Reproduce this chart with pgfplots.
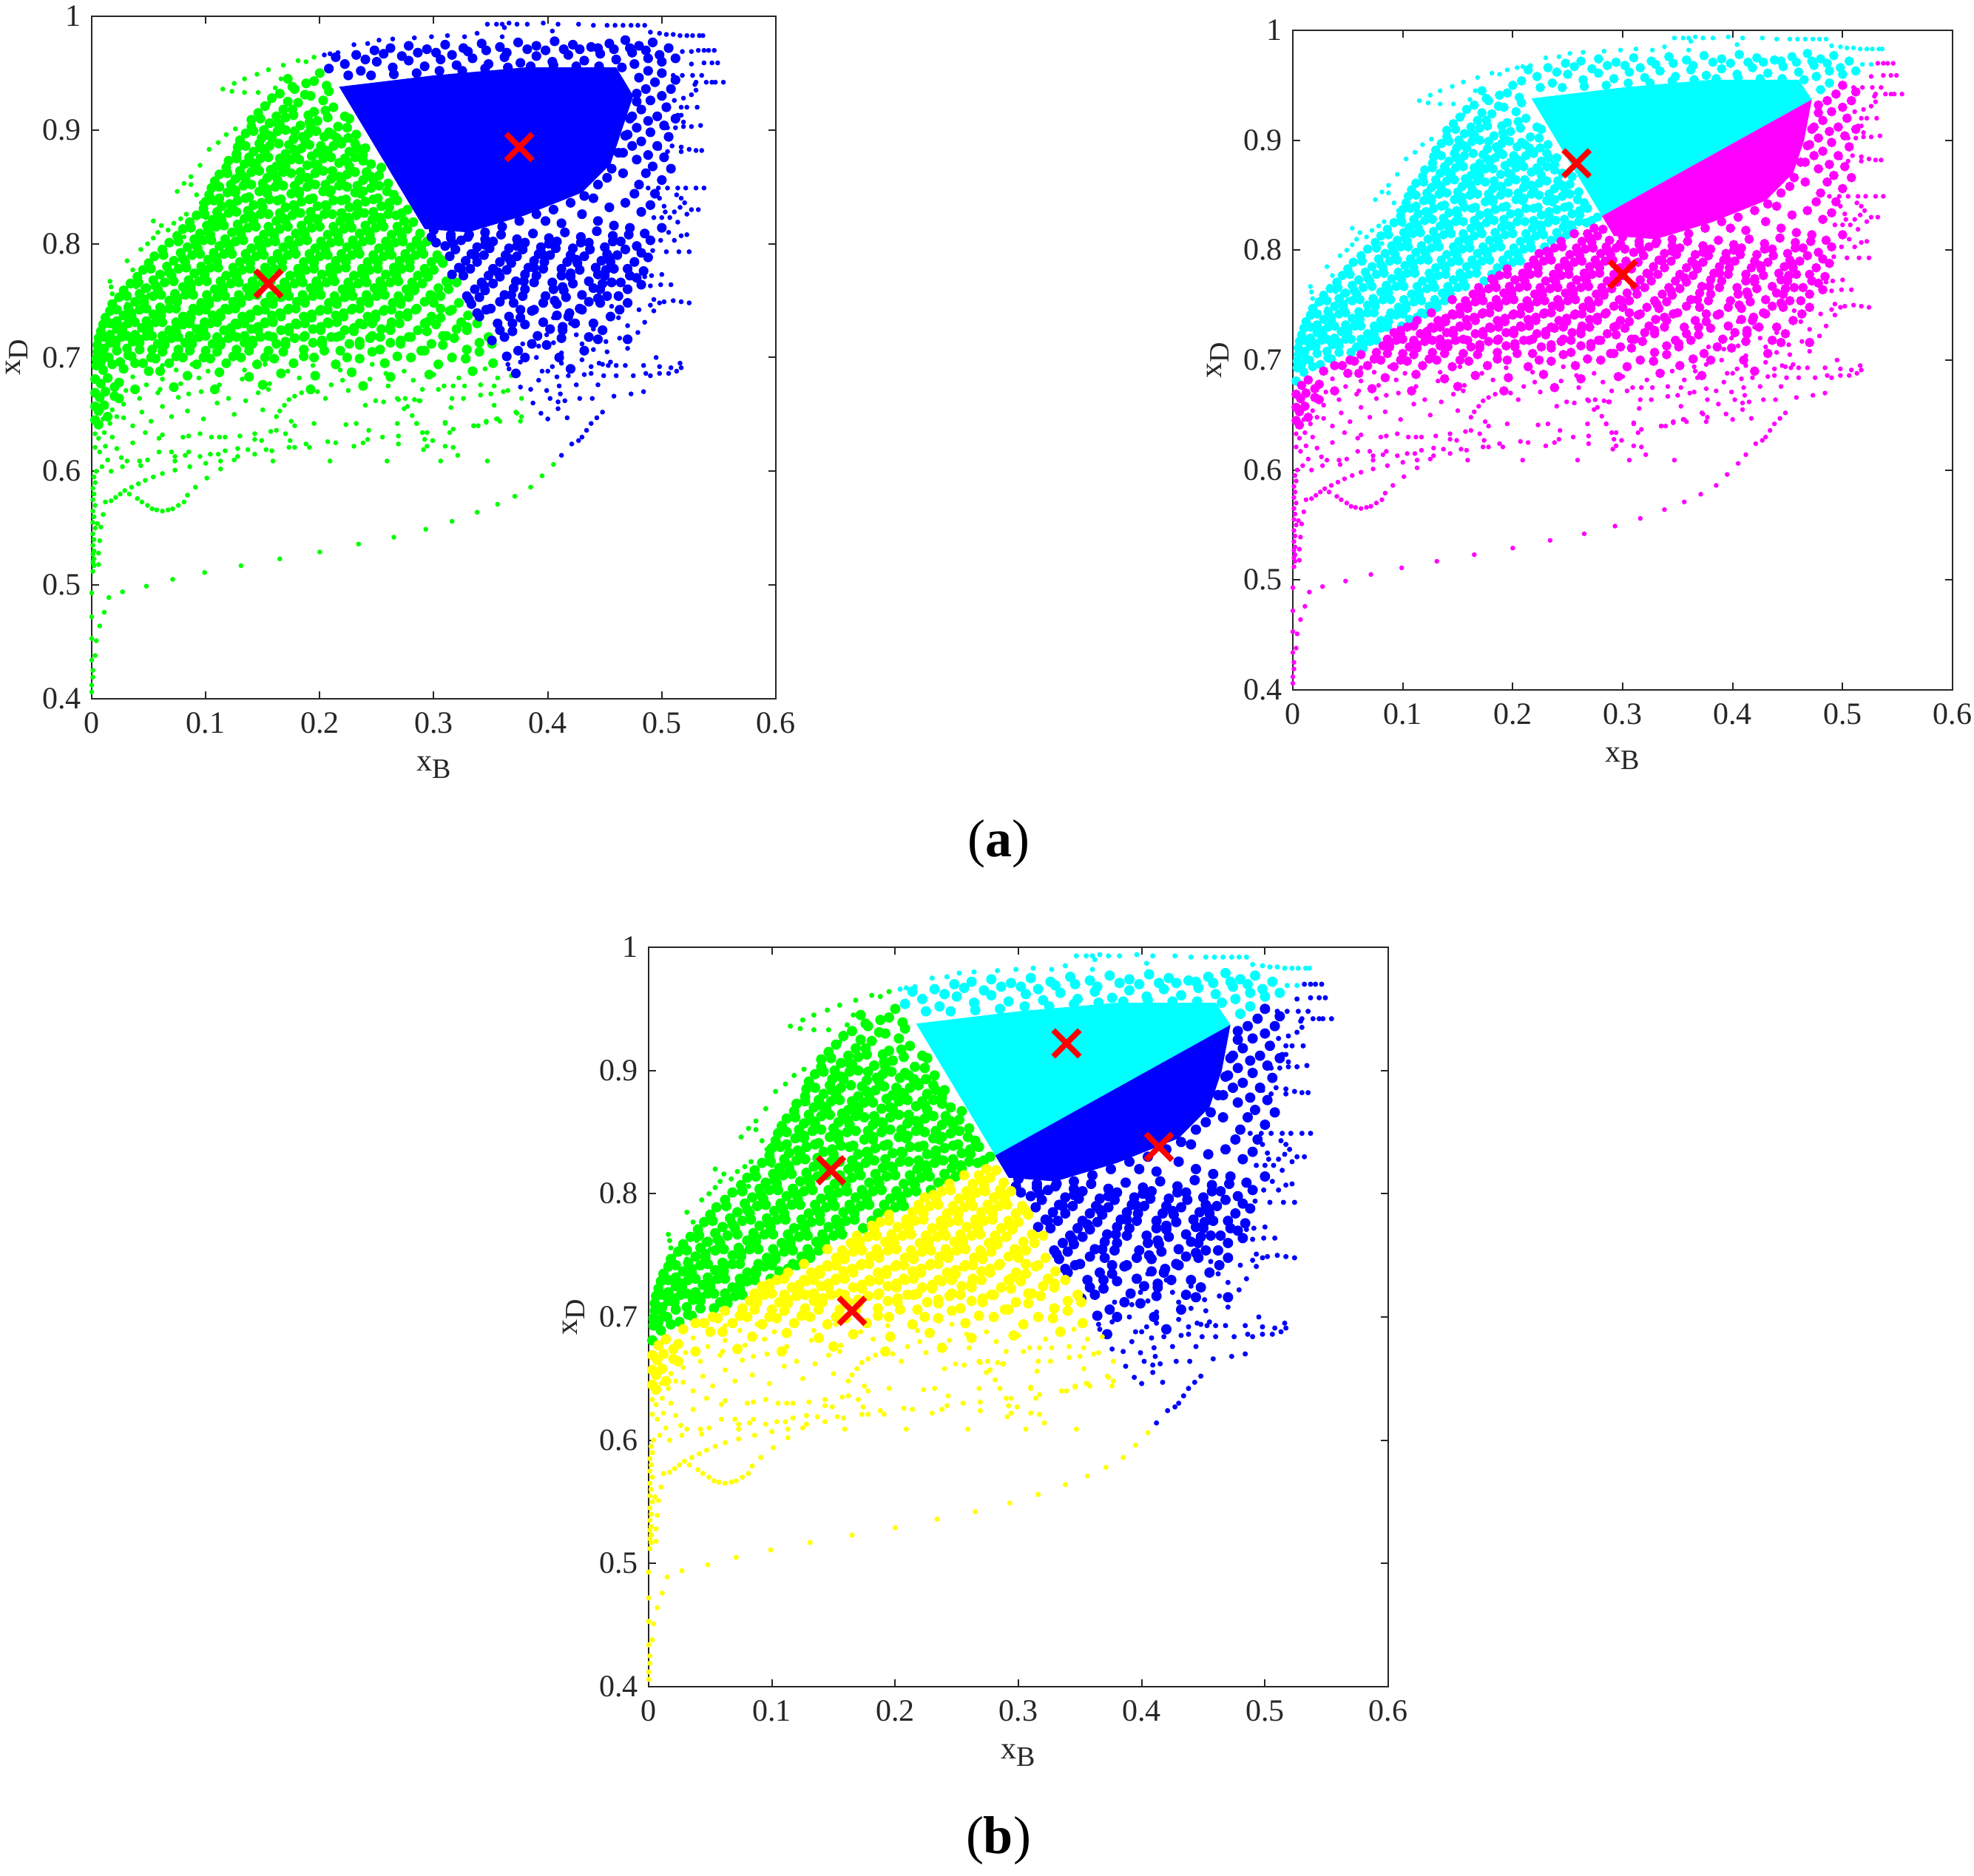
\documentclass[border=0pt]{standalone}
\usepackage{pgfplots}
\usepackage{pgfplotstable}
\usepackage{fontspec}
\setmainfont{Liberation Serif}
\pgfplotsset{compat=1.18}
\definecolor{cG}{RGB}{0,255,0}
\definecolor{cB}{RGB}{0,0,255}
\definecolor{cC}{RGB}{0,255,255}
\definecolor{cM}{RGB}{255,0,255}
\definecolor{cY}{RGB}{255,255,0}
\definecolor{axc}{RGB}{38,38,38}

% x_B, x_D, in thousandths
\pgfplotstableread{
x y
172 945
188 941
200 950
165 932
178 936
192 930
208 934
152 921
168 918
181 924
195 916
212 920
140 909
156 906
170 911
183 904
198 908
216 903
226 910
135 897
149 893
163 899
177 892
190 897
204 894
218 890
232 896
128 885
142 881
156 886
170 879
184 884
198 880
212 886
226 881
240 884
120 873
134 870
148 875
162 868
175 874
189 869
203 875
217 871
231 876
245 870
112 861
126 857
140 863
154 858
168 863
182 856
196 862
210 857
224 861
238 856
252 860
105 849
119 845
133 851
147 846
161 850
175 844
189 850
203 846
217 851
231 845
245 849
259 846
268 838
100 837
114 833
128 838
142 834
156 839
170 832
184 837
198 833
212 838
226 832
240 837
254 833
277 830
92 825
106 821
120 827
134 822
148 826
162 820
176 825
190 821
204 826
218 820
232 825
246 821
260 826
274 820
80 813
95 809
109 815
123 810
137 814
151 808
165 813
179 809
193 814
207 808
221 813
235 809
249 814
263 808
277 813
288 809
68 801
84 797
98 803
112 798
126 802
140 796
154 801
168 797
182 802
196 796
210 801
224 797
238 802
252 796
266 801
280 797
294 802
310 798
324 803
338 797
352 802
366 796
380 801
394 797
408 802
422 796
436 801
450 797
464 802
478 798
490 803
55 789
72 785
88 790
102 786
116 791
130 784
144 789
158 785
172 790
186 784
200 789
214 785
228 790
242 784
256 789
270 785
284 790
298 784
314 789
328 785
344 790
358 784
373 789
388 785
402 790
417 784
432 789
447 785
461 790
476 784
488 788
45 777
60 773
76 778
90 774
104 779
118 772
132 777
146 773
160 778
174 772
188 777
202 773
216 778
230 772
244 777
258 773
272 778
286 772
300 777
316 773
332 778
348 772
364 777
380 773
396 778
412 772
428 777
444 773
458 778
472 772
484 776
34 765
48 761
64 766
80 762
94 767
108 760
122 765
136 761
150 766
164 760
178 765
192 761
206 766
220 760
234 765
248 761
262 766
276 760
290 765
304 761
320 766
336 760
352 765
370 761
388 766
405 760
422 765
440 761
456 766
470 760
482 764
24 753
38 749
54 754
68 750
82 755
96 748
110 753
124 749
138 754
152 748
166 753
180 749
194 754
208 748
222 753
236 749
250 754
264 748
278 753
292 749
306 754
322 748
340 753
358 749
378 754
396 748
416 753
436 749
452 754
470 748
16 741
28 737
42 742
54 738
68 743
80 736
94 741
106 737
120 742
132 736
146 741
158 737
172 742
186 736
200 741
214 737
228 742
242 736
256 741
270 737
284 742
298 736
314 741
330 737
346 742
366 736
386 741
408 737
430 742
455 736
10 729
22 725
32 730
44 726
56 731
68 724
80 729
92 725
104 730
116 724
128 729
140 725
152 730
166 724
180 729
194 725
208 730
222 724
238 729
254 725
270 730
286 724
302 729
320 725
338 730
358 724
380 729
402 725
424 730
448 724
6 717
16 713
26 718
36 714
48 719
58 712
70 717
82 713
94 718
106 712
120 717
134 713
148 718
162 712
178 717
194 713
210 718
226 712
244 717
262 713
280 718
298 712
318 717
340 713
362 718
386 712
412 717
5 705
12 701
22 706
32 702
42 707
52 700
62 705
74 701
86 706
98 700
110 705
124 701
138 706
152 700
168 705
186 701
204 706
224 700
246 705
268 701
292 706
316 700
340 705
364 701
4 693
10 689
18 694
28 690
38 695
50 688
3 681
8 677
14 682
24 678
3 669
7 665
12 670
20 666
3 657
6 653
11 658
3 645
6 641
208 954
222 958
236 952
250 960
264 955
278 961
292 956
306 962
320 957
334 963
348 958
362 964
376 959
390 965
404 960
418 966
432 961
446 967
460 962
474 968
488 963
500 960
232 966
248 970
262 972
278 974
294 971
310 975
326 972
342 976
358 973
374 977
390 974
406 978
422 975
438 973
454 976
468 979
480 974
492 977
506 972
480 946
494 942
508 936
478 932
490 926
504 920
474 912
488 908
502 904
470 896
482 890
496 886
466 880
478 874
492 868
508 866
452 858
466 862
480 852
494 844
440 840
454 832
468 836
482 828
430 826
444 820
458 816
472 814
398 820
412 818
176 938
195 943
206 939
158 928
172 925
187 931
203 926
146 915
162 912
176 918
190 913
205 917
222 912
140 903
151 900
165 905
178 899
192 903
208 898
224 902
130 891
147 888
158 893
173 887
187 891
201 886
215 893
231 888
127 879
138 876
152 881
165 875
179 880
193 877
207 881
222 875
238 878
118 867
130 864
144 869
157 865
170 868
183 863
198 869
211 864
226 868
241 863
254 867
108 855
122 852
135 857
150 853
163 856
178 851
190 857
205 852
219 855
233 851
247 856
260 853
103 843
112 840
126 845
138 841
154 844
166 839
182 844
194 840
209 845
223 839
236 844
251 840
265 843
98 831
110 828
123 833
137 829
150 832
165 827
178 832
192 828
206 833
219 827
233 831
247 828
261 832
272 827
86 819
101 816
114 821
128 817
142 820
155 815
170 820
184 816
198 821
212 815
226 819
240 816
254 820
268 815
282 819
75 807
90 804
104 808
117 804
131 808
146 803
160 807
173 803
187 808
201 802
216 807
229 803
244 808
258 802
272 807
285 803
298 806
315 805
331 808
345 804
359 808
373 804
387 809
401 805
415 810
429 806
443 811
457 807
471 808
485 809
62 795
78 792
93 796
107 792
121 796
135 791
149 795
163 791
177 796
191 791
205 795
219 791
233 796
247 790
261 795
275 791
289 796
303 790
319 795
333 791
349 796
363 790
378 795
392 791
407 796
420 790
437 795
452 791
468 795
482 792
50 783
66 780
82 784
96 780
110 784
124 779
139 783
152 779
167 784
181 778
195 783
209 779
223 784
237 778
251 783
265 779
279 784
292 778
308 783
322 779
338 784
352 778
368 783
383 779
397 784
412 778
426 783
442 779
455 784
470 778
40 771
54 768
70 772
85 768
99 773
113 767
127 771
141 767
155 772
169 766
183 771
197 767
211 772
225 766
239 771
253 767
267 772
281 766
295 771
311 767
326 772
342 766
358 771
372 767
390 772
404 766
420 771
436 767
450 772
464 766
478 770
28 759
42 756
58 760
73 756
87 761
101 755
115 759
129 755
143 760
157 754
171 759
185 755
199 760
213 754
227 759
241 755
255 760
269 754
283 759
297 755
313 760
329 754
345 759
362 755
380 760
398 754
414 759
430 755
446 760
462 754
18 747
32 744
46 748
60 744
75 749
89 743
103 747
117 743
131 748
145 742
159 747
173 743
187 748
201 742
215 747
229 743
243 748
257 742
271 747
285 743
300 748
316 742
333 747
350 743
370 748
388 742
408 747
428 743
446 748
463 742
12 735
22 732
35 736
48 732
61 737
74 731
87 735
99 731
113 736
126 730
139 735
152 731
166 736
179 730
193 735
207 731
221 736
235 730
249 735
263 731
277 736
292 730
306 735
324 731
340 736
356 730
376 735
396 731
418 736
440 730
8 723
16 720
27 724
38 720
50 725
62 719
74 723
86 719
98 724
110 718
122 723
134 719
146 724
159 718
173 723
187 719
201 724
215 718
230 723
246 719
262 724
278 718
294 723
311 719
329 724
348 718
369 723
391 719
413 724
436 718
5 711
11 708
21 712
31 708
42 713
53 707
64 711
76 707
88 712
100 706
113 711
127 707
141 712
155 706
170 711
186 707
202 712
218 706
235 711
253 707
271 712
289 706
308 711
329 707
351 712
374 706
399 711
4 699
8 696
15 700
25 696
35 701
45 695
56 699
68 695
80 700
92 694
104 699
118 695
131 700
145 694
160 699
177 695
195 700
214 694
235 699
257 695
280 700
304 694
328 699
352 695
380 700
225 948
245 948
265 949
285 950
305 952
325 952
345 954
365 955
385 956
405 957
425 956
445 956
465 955
300 812
315 808
330 806
345 810
360 815
375 820
390 826
405 830
420 836
432 842
444 852
456 866
462 880
468 895
472 910
478 925
60 688
84 684
112 687
138 683
166 686
196 684
228 687
262 683
296 685
334 688
372 686
72 674
108 672
150 676
192 672
238 675
24 664
38 672
14 648
20 674
410 700
432 706
420 690
444 716
470 716
214 964
240 962
256 967
272 965
286 968
302 968
316 966
330 969
346 970
364 968
382 971
398 970
414 971
428 971
444 972
458 971
472 972
486 970
498 966
512 963
476 958
488 952
500 950
512 944
486 936
500 930
482 918
496 912
512 910
478 902
490 898
506 894
474 886
488 878
502 876
486 862
500 856
476 844
490 834
500 814
148 910
163 906
177 913
191 907
207 911
142 899
156 895
170 900
185 894
197 899
211 896
225 893
135 886
149 884
164 888
177 883
191 887
205 882
219 888
233 884
127 875
141 871
155 876
169 871
182 874
196 870
210 876
224 872
238 873
119 862
133 859
147 864
161 860
175 862
189 858
203 864
217 859
231 863
245 859
112 850
126 847
140 852
154 848
168 851
182 846
196 852
210 847
224 850
238 846
252 851
107 838
121 835
135 840
149 836
163 838
177 834
191 839
205 834
219 838
233 835
247 839
261 836
99 826
113 823
127 828
141 824
155 826
169 822
183 827
197 822
211 826
225 823
239 827
253 823
267 825
87 814
102 811
116 816
130 812
144 815
158 810
172 815
186 811
200 815
214 810
228 814
242 811
256 815
270 811
76 802
91 799
105 803
119 800
133 803
147 798
161 802
175 799
189 803
203 798
217 802
231 799
245 803
259 798
273 802
287 799
302 801
317 800
345 799
373 798
401 800
429 801
457 802
63 790
80 787
95 791
109 788
123 791
137 786
151 790
165 787
179 791
193 786
207 790
221 787
235 791
249 786
263 790
277 787
291 791
306 786
336 790
366 787
395 791
425 786
454 788
52 778
68 775
83 779
97 776
111 779
125 774
139 778
153 775
167 779
181 774
195 778
209 775
223 779
237 774
251 778
265 775
279 779
293 774
324 778
356 775
388 779
420 774
451 777
41 766
56 763
72 767
87 764
101 767
115 762
129 766
143 763
157 767
171 762
185 766
199 763
213 767
227 762
241 766
255 763
269 767
283 762
312 766
344 763
379 767
413 762
448 765
31 754
46 751
61 755
75 752
89 755
103 750
117 754
131 751
145 755
159 750
173 754
187 751
201 755
215 750
229 754
243 751
257 755
271 750
299 754
331 751
368 755
406 750
444 752
22 742
35 739
48 743
61 740
74 743
87 738
100 742
113 739
126 743
139 738
152 742
165 739
179 743
193 738
207 742
221 739
235 743
249 738
263 742
277 739
306 743
338 739
376 742
419 739
16 730
27 727
38 731
50 728
62 731
74 726
86 730
98 727
110 731
122 726
134 730
146 727
159 731
173 726
187 730
201 727
215 731
230 726
246 730
262 727
294 731
329 727
369 730
413 727
11 718
21 715
31 719
42 716
53 719
64 714
76 718
88 715
100 719
113 714
127 718
141 715
155 719
170 714
186 718
202 715
218 719
235 714
253 718
271 715
308 719
351 715
}\midpts

\pgfplotstableread{
x y
115 936
123 934
125 941
134 933
134 945
146 933
145 949
155 953
168 957
181 961
188 960
195 964
155 923
158 930
161 937
166 945
75 846
81 853
87 859
87 852
92 843
96 836
100 828
95 869
103 883
111 889
118 896
126 901
54 820
61 816
67 812
74 808
81 806
88 803
72 818
78 822
83 826
91 825
100 823
43 795
49 800
54 805
58 810
31 785
36 777
40 769
45 761
16 767
17 762
18 756
21 750
33 767
39 762
45 758
50 755
17 739
24 743
31 747
38 750
15 489
27 494
48 499
71 505
99 511
131 517
165 523
200 529
234 536
265 542
293 549
316 556
338 564
356 571
371 578
385 586
395 596
405 606
412 614
421 624
427 627
430 630
434 636
438 642
443 647
448 652
10 562
12 573
17 574
21 577
25 580
29 583
33 580
40 576
44 573
49 570
53 567
57 566
62 565
67 566
71 567
76 570
81 573
84 579
91 586
101 594
35 586
41 589
47 592
54 595
62 598
73 601
86 604
100 607
113 602
113 609
0 406
0 412
1 419
1 425
0 434
3 438
0 453
4 451
7 464
0 472
11 476
0 493
1 512
2 517
1 520
2 523
1 527
2 530
1 535
2 540
1 545
3 550
1 555
2 560
1 565
3 570
1 575
2 580
1 585
3 590
2 595
4 600
6 518
6 528
7 539
8 551
5 554
31 609
42 609
43 605
49 610
59 617
70 617
73 613
73 609
82 614
85 617
95 613
104 615
111 615
117 618
125 610
128 620
128 613
137 619
143 615
153 619
158 618
159 609
209 609
259 609
306 609
347 609
321 614
317 621
310 622
291 619
294 622
299 627
292 628
290 634
294 634
269 624
269 631
255 630
242 628
238 625
230 622
214 625
207 626
191 621
188 624
178 621
173 621
174 627
170 633
149 627
143 628
143 633
130 631
117 630
112 630
105 630
95 633
85 631
80 630
62 632
59 629
47 634
162 636
157 635
243 636
232 642
223 641
195 642
178 640
175 644
268 642
285 642
310 643
317 637
314 634
335 640
339 640
346 643
355 646
358 644
372 652
162 648
165 653
169 658
173 663
178 666
184 669
268 664
275 664
283 663
288 662
366 690
376 674
377 664
387 660
394 651
400 646
409 655
417 647
415 662
409 661
402 664
399 671
439 664
458 666
473 668
484 670
408 683
410 675
411 668
425 676
432 685
438 692
399 720
405 713
412 704
430 698
440 707
451 714
463 717
479 722
485 731
493 741
517 691
513 688
508 691
498 692
484 693
516 695
506 686
498 686
490 684
486 686
475 684
495 700
468 693
460 693
453 693
448 694
455 696
460 684
449 684
493 751
502 749
510 750
517 749
524 748
498 748
490 746
508 764
499 764
490 763
500 773
491 772
485 771
524 793
515 793
504 793
492 794
522 808
517 807
511 803
506 810
499 803
514 819
493 823
500 823
507 823
532 830
526 830
522 826
516 832
511 828
503 828
502 833
498 840
488 849
497 849
505 849
514 849
521 849
530 849
537 849
513 843
517 840
520 836
524 883
530 882
535 882
517 885
517 881
509 886
505 881
498 884
534 904
526 903
519 903
512 902
505 902
519 907
517 913
514 913
522 920
531 920
517 920
554 942
547 942
544 942
539 942
530 942
529 940
530 935
526 931
519 928
511 926
505 922
535 948
527 948
518 948
510 948
502 949
549 959
544 959
537 959
526 958
546 970
541 970
537 970
532 970
526 969
518 969
536 983
533 983
527 983
522 983
516 983
510 984
504 984
498 985
490 986
347 993
355 993
360 993
366 994
373 993
382 993
396 994
409 993
427 993
440 992
452 992
459 992
466 992
473 992
479 992
485 992
404 987
360 982
362 990
252 979
264 980
283 981
298 982
312 983
327 982
338 985
230 975
242 976
216 968
204 966
209 967
249 662
256 661
269 663
287 662
316 664
326 664
341 667
350 668
361 670
365 671
304 672
309 675
317 675
327 675
341 676
353 675
281 649
285 642
310 642
335 640
346 644
356 646
373 651
377 648
376 644
353 658
315 656
274 655
277 657
62 693
74 689
88 694
102 688
118 693
134 689
152 694
172 688
194 693
218 689
246 694
274 688
304 693
336 689
365 694
400 688
36 683
48 676
62 681
78 677
94 682
112 676
132 681
156 677
182 682
210 676
244 681
30 671
42 664
58 669
76 665
96 670
120 664
146 669
18 654
28 659
44 652
62 657
84 653
10 646
16 642
28 647
3 633
6 629
11 634
18 630
3 621
7 617
12 622
60 672
85 668
110 660
135 662
155 672
205 664
225 671
240 658
260 675
282 680
300 685
322 682
345 690
368 684
385 672
392 680
404 692
418 684
428 664
444 676
452 705
470 708
462 735
480 742
440 725
420 730
405 735
390 700
378 712
395 688
430 712
445 695
470 728
456 745
438 686
22 648
36 640
52 644
70 648
98 646
125 650
150 654
36 625
22 620
26 612
14 610
9 604
17 600
27 604
198 670
220 680
258 686
290 672
330 698
356 682
376 696
392 710
412 695
425 720
}\finepts

% which side of the two cluster borders a point lies on
\newcommand\leftL{(\thisrow{y}+1.67*\thisrow{x}<1300.7)}
\newcommand\rightL{(\thisrow{y}+1.67*\thisrow{x}>=1300.7)}
\newcommand\upL{(\thisrow{y}-0.555*\thisrow{x}>675)}
\newcommand\downL{(\thisrow{y}-0.555*\thisrow{x}<=675)}

\newcommand\cloud[4]{%
  \addplot[only marks, mark=*, color=#1, mark size=#2] table[x expr={#4 ? \thisrow{x}/1000 : nan}, y expr=\thisrow{y}/1000] {\midpts};
  \addplot[only marks, mark=*, color=#1, mark size=#3] table[x expr={#4 ? \thisrow{x}/1000 : nan}, y expr=\thisrow{y}/1000] {\finepts};
}

\pgfplotsset{
  panel/.style={
    scale only axis,
    anchor=south west,
    xmin=0, xmax=0.6, ymin=0.4, ymax=1,
    xtick={0,0.1,0.2,0.3,0.4,0.5,0.6},
    xticklabels={0,0.1,0.2,0.3,0.4,0.5,0.6},
    ytick={0.4,0.5,0.6,0.7,0.8,0.9,1},
    yticklabels={0.4,0.5,0.6,0.7,0.8,0.9,1},
    tick align=inside,
    tick style={color=axc, line width=0.5pt},
    major tick length=2.5pt,
    axis line style={color=axc, line width=0.7pt},
    ticklabel style={color=axc, font=\fontsize{10.5}{12}\selectfont},
    xticklabel style={yshift=-1pt},
    label style={color=axc, font=\fontsize{10.5}{12}\selectfont},
    xlabel={x\raisebox{-2.5pt}{\fontsize{9.5}{9.5}\selectfont B}},
    ylabel={x\raisebox{-2.5pt}{\fontsize{9.5}{9.5}\selectfont D}},
    xlabel style={yshift=-1pt},
    ylabel style={yshift=-2pt},
  },
  core/.style={fill=#1, draw=none, forget plot},
  cross/.style={only marks, mark=x, color=red, mark size=6.3pt, mark options={line width=1.9pt}},
}

\begin{document}
\begin{tikzpicture}[x=1pt,y=1pt]
\useasboundingbox (0,0) rectangle (667.25,634.25);

\begin{axis}[panel, at={(31pt,398pt)}, width=231.25pt, height=230.75pt]
  \addplot[core=cB] coordinates {(0.217,0.938)(0.30,0.948)(0.38,0.955)(0.46,0.955)(0.475,0.93)(0.465,0.90)(0.455,0.87)(0.43,0.845)(0.38,0.825)(0.33,0.81)(0.292,0.813)} --cycle;
  \cloud{cG}{1.45pt}{0.62pt}{\leftL}
  \cloud{cB}{1.45pt}{0.62pt}{\rightL}
  \addplot[cross] coordinates {(0.155,0.765)(0.375,0.885)};
\end{axis}

\begin{axis}[panel, at={(437pt,401pt)}, width=223pt, height=223pt]
  \addplot[core=cC] coordinates {(0.217,0.938)(0.30,0.948)(0.38,0.955)(0.46,0.955)(0.472,0.937)(0.2812,0.831)} --cycle;
  \addplot[core=cM] coordinates {(0.2812,0.831)(0.472,0.937)(0.465,0.90)(0.455,0.87)(0.43,0.845)(0.38,0.825)(0.33,0.81)(0.292,0.813)} --cycle;
  \cloud{cC}{1.4pt}{0.6pt}{\upL}
  \cloud{cM}{1.4pt}{0.6pt}{\downL}
  \addplot[cross] coordinates {(0.258,0.879)(0.3,0.778)};
\end{axis}

\begin{axis}[panel, at={(219.25pt,64pt)}, width=250pt, height=250pt]
  \addplot[core=cC] coordinates {(0.217,0.938)(0.30,0.948)(0.38,0.955)(0.46,0.955)(0.472,0.937)(0.2812,0.831)} --cycle;
  \addplot[core=cB] coordinates {(0.2812,0.831)(0.472,0.937)(0.465,0.90)(0.455,0.87)(0.43,0.845)(0.38,0.825)(0.33,0.81)(0.292,0.813)} --cycle;
  \cloud{cG}{1.55pt}{0.67pt}{and(\leftL,\upL)}
  \cloud{cC}{1.55pt}{0.67pt}{and(\rightL,\upL)}
  \cloud{cB}{1.55pt}{0.67pt}{and(\rightL,\downL)}
  \cloud{cY}{1.55pt}{0.67pt}{and(\leftL,\downL)}
  \addplot[cross] coordinates {(0.148,0.819)(0.339,0.922)(0.414,0.838)(0.165,0.705)};
\end{axis}

\node[font=\fontsize{18}{20}\selectfont, text=black] at (337.5,349) {(\textbf{a})};
\node[font=\fontsize{18}{20}\selectfont, text=black] at (337.5,12) {(\textbf{b})};
\end{tikzpicture}
\end{document}
